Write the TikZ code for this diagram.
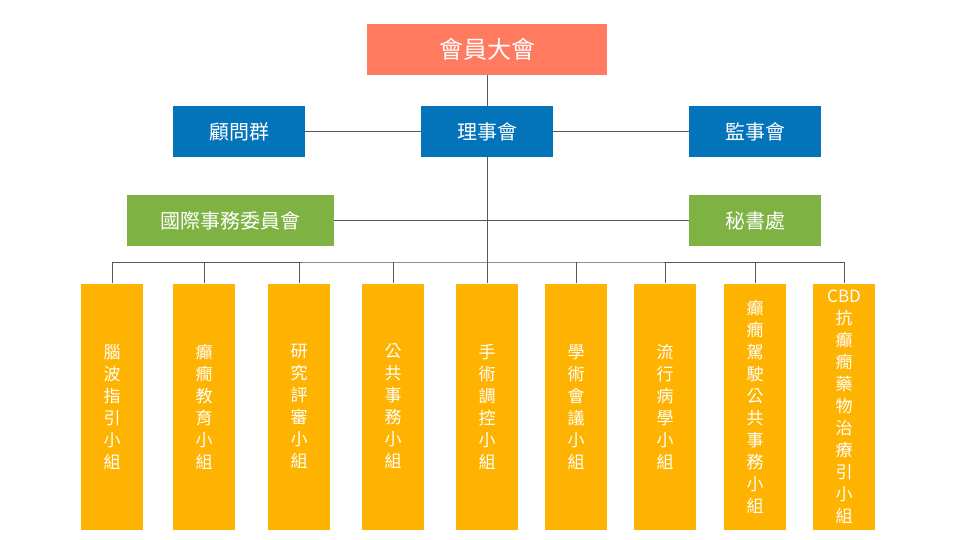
\documentclass[tikz,border=0pt]{standalone}
\usepackage{fontspec}
\setmainfont{Noto Sans CJK TC}
\usetikzlibrary{positioning}
\definecolor{salmon}{RGB}{255,122,95}
\definecolor{board}{RGB}{3,115,186}
\definecolor{office}{RGB}{126,178,67}
\definecolor{group}{RGB}{254,179,0}
\definecolor{wire}{RGB}{89,89,89}

\begin{document}
\begin{tikzpicture}[x=1pt,y=-1pt,
             box/.style={inner sep=0pt, text=white, minimum height=51pt, font=\fontsize{20}{24}\selectfont},
             groupbox/.style={inner sep=0pt, text=white, fill=group, minimum width=62pt, minimum height=246pt, align=center, font=\fontsize{17}{22}\selectfont},
             wire/.style={draw=wire, line width=1pt}]
             \useasboundingbox (0,0) rectangle (960,540);
             % top levels
             \node[box, fill=salmon, minimum width=240pt, font=\fontsize{24}{28}\selectfont] (gm) at (487,49.5) {會員大會};
             \node[box, fill=board, minimum width=132pt] (bd) at (487,131.5) {理事會};
             \node[box, fill=board, minimum width=132pt] (adv) at (239,131.5) {顧問群};
             \node[box, fill=board, minimum width=132pt] (sup) at (755,131.5) {監事會};
             \node[box, fill=office, minimum width=207pt] (intl) at (230.5,220.5) {國際事務委員會};
             \node[box, fill=office, minimum width=132pt] (sec) at (755,220.5) {秘書處};
             % working groups
             \node[groupbox] (g1) at (112,406.5) {腦\\波\\指\\引\\小\\組};
             \node[groupbox] (g2) at (204,406.5) {癲\\癇\\教\\育\\小\\組};
             \node[groupbox] (g3) at (299,406.5) {研\\究\\評\\審\\小\\組};
             \node[groupbox] (g4) at (393,406.5) {公\\共\\事\\務\\小\\組};
             \node[groupbox] (g5) at (487,406.5) {手\\術\\調\\控\\小\\組};
             \node[groupbox] (g6) at (576,406.5) {學\\術\\會\\議\\小\\組};
             \node[groupbox] (g7) at (665,406.5) {流\\行\\病\\學\\小\\組};
             \node[groupbox] (g8) at (755,406.5) {癲\\癇\\駕\\駛\\公\\共\\事\\務\\小\\組};
             \node[groupbox] (g9) at (844,406.5) {CBD\\抗\\癲\\癇\\藥\\物\\治\\療\\引\\小\\組};
             \coordinate (bus) at (487,262);
             % connectors
             \draw[wire] (gm) -- (bd);
             \draw[wire] (adv) -- (bd);
             \draw[wire] (bd) -- (sup);
             \draw[wire] (intl) -- (sec);
             \draw[wire] (bd) -- (g5);
             \draw[wire] (g1.north) |- (bus) -| (g9.north);
             \draw[wire] (g2.north) -- (g2.north |- bus);
             \draw[wire] (g3.north) -- (g3.north |- bus);
             \draw[wire] (g4.north) -- (g4.north |- bus);
             \draw[wire] (g6.north) -- (g6.north |- bus);
             \draw[wire] (g7.north) -- (g7.north |- bus);
             \draw[wire] (g8.north) -- (g8.north |- bus);
            \end{tikzpicture}
\end{document}
